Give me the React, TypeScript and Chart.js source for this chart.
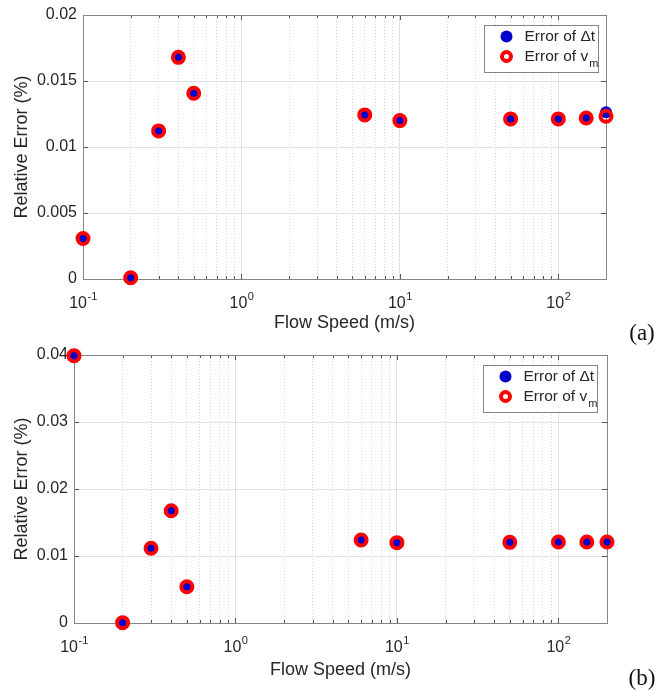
import React, { useEffect, useRef } from "react";
import { Chart, registerables } from "chart.js";

Chart.register(...registerables);

// ---------- data ----------
const FLOW_SPEED = [0.1, 0.2, 0.3, 0.4, 0.5, 6, 10, 50, 100, 150, 200];

const ERR_DT_A = [0.00307, 0.0001, 0.01122, 0.01679, 0.01407, 0.01243, 0.012, 0.01213, 0.01213, 0.01225, 0.01263];
const ERR_VM_A = [0.00307, 0.0001, 0.01122, 0.01679, 0.01407, 0.01243, 0.012, 0.01213, 0.01213, 0.0122, 0.01233];

const ERR_DT_B = [0.0399, 0.00005, 0.01115, 0.01676, 0.00542, 0.01239, 0.01199, 0.01204, 0.0121, 0.0121, 0.0121];
const ERR_VM_B = [0.0399, 0.00005, 0.01115, 0.01676, 0.00542, 0.01239, 0.01199, 0.01204, 0.0121, 0.0121, 0.0121];

const X_TICKS = [
  0.1, 0.2, 0.3, 0.4, 0.5, 0.6, 0.7, 0.8, 0.9,
  1, 2, 3, 4, 5, 6, 7, 8, 9,
  10, 20, 30, 40, 50, 60, 70, 80, 90,
  100, 200,
];
const X_MAJOR_TICKS = [0.1, 1, 10, 100];
const X_MAJOR_BASE = "10";
const X_MAJOR_EXPONENTS = ["-1", "0", "1", "2"];

const Y_TICKS_A = [0, 0.005, 0.01, 0.015, 0.02];
const Y_LABELS_A = ["0", "0.005", "0.01", "0.015", "0.02"];
const Y_TICKS_B = [0, 0.01, 0.02, 0.03, 0.04];
const Y_LABELS_B = ["0", "0.01", "0.02", "0.03", "0.04"];

const X_TITLE = "Flow Speed (m/s)";
const Y_TITLE = "Relative Error (%)";
const LEGEND_DT = "Error of \u0394t";
const LEGEND_VM = "Error of v";
const LEGEND_VM_SUB = "m";
const PANEL_LABELS = ["(a)", "(b)"];

// ---------- styling ----------
const FONT = "'Liberation Sans', Arial, Helvetica, sans-serif";
const TEXT = "#262626";
const BLUE = "#0000cc";
const RED = "#ff0000";

const isMajor = (v: number) => X_MAJOR_TICKS.some((m) => Math.abs(m - v) < 1e-9);

const framePlugin = {
  id: "frame",
  beforeDatasetsDraw(chart: any) {
    const { ctx, chartArea: a, scales } = chart;
    const xs = scales.x;
    const ys = scales.y;
    ctx.save();
    ctx.lineWidth = 1;
    ctx.strokeStyle = "#555555";
    ctx.beginPath();
    for (const t of xs.ticks) {
      const px = Math.round(xs.getPixelForValue(t.value)) + 0.5;
      const len = isMajor(t.value) ? 5 : 3;
      ctx.moveTo(px, a.bottom);
      ctx.lineTo(px, a.bottom - len);
      ctx.moveTo(px, a.top);
      ctx.lineTo(px, a.top + len);
    }
    for (const t of ys.ticks) {
      const py = Math.round(ys.getPixelForValue(t.value)) + 0.5;
      ctx.moveTo(a.left, py);
      ctx.lineTo(a.left + 5, py);
      ctx.moveTo(a.right, py);
      ctx.lineTo(a.right - 5, py);
    }
    ctx.stroke();
    ctx.strokeStyle = "#858585";
    ctx.strokeRect(
      Math.round(a.left) + 0.5,
      Math.round(a.top) + 0.5,
      Math.round(a.right - a.left),
      Math.round(a.bottom - a.top)
    );
    ctx.restore();
  },
};

// powers-of-ten tick labels with a raised exponent, placed by the x scale
const powerLabelsPlugin = {
  id: "powerLabels",
  afterDraw(chart: any) {
    const { ctx, chartArea: a, scales } = chart;
    const xs = scales.x;
    ctx.save();
    ctx.fillStyle = TEXT;
    ctx.textAlign = "left";
    ctx.textBaseline = "alphabetic";
    X_MAJOR_TICKS.forEach((v, i) => {
      const px = xs.getPixelForValue(v);
      ctx.font = `16px ${FONT}`;
      const wb = ctx.measureText(X_MAJOR_BASE).width;
      ctx.font = `11px ${FONT}`;
      const we = ctx.measureText(X_MAJOR_EXPONENTS[i]).width;
      const x0 = px - (wb + we) / 2;
      ctx.font = `16px ${FONT}`;
      ctx.fillText(X_MAJOR_BASE, x0, a.bottom + 28.5);
      ctx.font = `11px ${FONT}`;
      ctx.fillText(X_MAJOR_EXPONENTS[i], x0 + wb + 0.5, a.bottom + 21);
    });
    ctx.restore();
  },
};

const innerLegendPlugin = {
  id: "innerLegend",
  afterDraw(chart: any, _args: any, opts: any) {
    const { ctx, chartArea: a } = chart;
    const left = Math.round(a.right - opts.dx) + 0.5;
    const top = Math.round(a.top + opts.dy) + 0.5;
    const w = opts.w;
    const h = opts.h;
    ctx.save();
    ctx.fillStyle = "#ffffff";
    ctx.fillRect(left, top, w, h);
    ctx.lineWidth = 1;
    ctx.strokeStyle = "#858585";
    ctx.strokeRect(left, top, w, h);

    const mx = left + 22;
    const r1 = top + 11;
    const r2 = top + 31;
    ctx.beginPath();
    ctx.fillStyle = BLUE;
    ctx.arc(mx, r1, 6, 0, Math.PI * 2);
    ctx.fill();
    ctx.beginPath();
    ctx.strokeStyle = RED;
    ctx.lineWidth = 4;
    ctx.arc(mx, r2, 4.5, 0, Math.PI * 2);
    ctx.stroke();

    ctx.fillStyle = TEXT;
    ctx.textAlign = "left";
    ctx.textBaseline = "middle";
    ctx.font = `15.5px ${FONT}`;
    const tx = left + 40;
    ctx.fillText(LEGEND_DT, tx, r1);
    ctx.fillText(LEGEND_VM, tx, r2);
    const vw = ctx.measureText(LEGEND_VM).width;
    ctx.font = `11px ${FONT}`;
    ctx.fillText(LEGEND_VM_SUB, tx + vw + 1, r2 + 7);
    ctx.restore();
  },
};

type PanelProps = {
  top: number;
  height: number;
  dt: number[];
  vm: number[];
  yTicks: number[];
  yLabels: string[];
  padTop: number;
  padRight: number;
  yAxisWidth: number;
  xAxisHeight: number;
  xTitlePad: number;
  legendDx: number;
  legendDy: number;
};

function Panel(p: PanelProps) {
  const ref = useRef<HTMLCanvasElement | null>(null);

  useEffect(() => {
    const canvas = ref.current;
    if (!canvas) return;
    const chart = new Chart(canvas, {
      type: "scatter",
      data: {
        datasets: [
          {
            label: LEGEND_DT,
            data: FLOW_SPEED.map((x, i) => ({ x, y: p.dt[i] })),
            pointRadius: 6,
            pointBackgroundColor: BLUE,
            pointBorderWidth: 0,
            pointBorderColor: BLUE,
            showLine: false,
            order: 2,
            clip: false as any,
          },
          {
            label: LEGEND_VM,
            data: FLOW_SPEED.map((x, i) => ({ x, y: p.vm[i] })),
            pointRadius: 5.5,
            pointBackgroundColor: "rgba(0,0,0,0)",
            pointBorderWidth: 4,
            pointBorderColor: RED,
            showLine: false,
            order: 1,
            clip: false as any,
          },
        ],
      },
      options: {
        animation: false,
        responsive: false,
        maintainAspectRatio: false,
        devicePixelRatio: 1,
        events: [],
        layout: { padding: { top: p.padTop, right: p.padRight, left: 0, bottom: 0 } },
        plugins: {
          legend: { display: false },
          tooltip: { enabled: false },
          innerLegend: { dx: p.legendDx, dy: p.legendDy, w: 114, h: 47 },
        } as any,
        scales: {
          x: {
            type: "logarithmic",
            position: "bottom",
            min: 0.1,
            max: 200,
            afterBuildTicks: (s: any) => {
              s.ticks = X_TICKS.map((v) => ({ value: v, major: isMajor(v) }));
            },
            afterFit: (s: any) => {
              s.height = p.xAxisHeight;
              s.paddingLeft = 0;
              s.paddingRight = 0;
            },
            grid: {
              drawTicks: false,
              lineWidth: 1,
              color: (c: any) => (c.tick && isMajor(c.tick.value) ? "#e0e0e0" : "#d8d8d8"),
            },
            border: {
              display: false,
              dash: (c: any) => (c.tick && !isMajor(c.tick.value) ? [1, 2] : []),
            } as any,
            ticks: { display: false, autoSkip: false, maxRotation: 0, minRotation: 0 },
            title: {
              display: true,
              text: X_TITLE,
              color: TEXT,
              font: { family: FONT, size: 18 },
              padding: { top: 0, bottom: p.xTitlePad },
            },
          },
          y: {
            type: "linear",
            position: "left",
            min: p.yTicks[0],
            max: p.yTicks[p.yTicks.length - 1],
            afterBuildTicks: (s: any) => {
              s.ticks = p.yTicks.map((v) => ({ value: v }));
            },
            afterFit: (s: any) => {
              s.width = p.yAxisWidth;
              s.paddingTop = 0;
              s.paddingBottom = 0;
            },
            grid: { drawTicks: false, lineWidth: 1, color: "#e0e0e0" },
            border: { display: false },
            ticks: {
              padding: 6,
              color: TEXT,
              font: { family: FONT, size: 16 },
              callback: (_v: any, i: number) => p.yLabels[i],
            },
            title: {
              display: true,
              text: Y_TITLE,
              color: TEXT,
              font: { family: FONT, size: 18 },
              padding: { top: 11, bottom: 0 },
            },
          },
        },
      },
      plugins: [framePlugin, powerLabelsPlugin, innerLegendPlugin],
    });
    return () => chart.destroy();
  }, []);

  return (
    <canvas
      ref={ref}
      width={670}
      height={p.height}
      style={{ position: "absolute", left: 0, top: p.top, width: 670, height: p.height, display: "block" }}
    />
  );
}

const labelStyle = (cx: number, cy: number): React.CSSProperties => ({
  position: "absolute",
  left: cx,
  top: cy,
  transform: "translate(-50%, -50%)",
  fontFamily: "'Liberation Serif', 'DejaVu Serif', serif",
  fontSize: 23,
  color: "#111",
  lineHeight: 1,
  whiteSpace: "nowrap",
});

export default function App() {
  return (
    <div style={{ position: "absolute", left: 0, top: 0, width: 670, height: 691, background: "#fff", overflow: "hidden" }}>
      <Panel
        top={0}
        height={345}
        dt={ERR_DT_A}
        vm={ERR_VM_A}
        yTicks={Y_TICKS_A}
        yLabels={Y_LABELS_A}
        padTop={15}
        padRight={64}
        yAxisWidth={83}
        xAxisHeight={66}
        xTitlePad={11}
        legendDx={122}
        legendDy={10}
      />
      <Panel
        top={345}
        height={346}
        dt={ERR_DT_B}
        vm={ERR_VM_B}
        yTicks={Y_TICKS_B}
        yLabels={Y_LABELS_B}
        padTop={10}
        padRight={63}
        yAxisWidth={74}
        xAxisHeight={68}
        xTitlePad={10}
        legendDx={124}
        legendDy={10}
      />
      <div style={labelStyle(642, 332)}>{PANEL_LABELS[0]}</div>
      <div style={labelStyle(642, 677)}>{PANEL_LABELS[1]}</div>
    </div>
  );
}
